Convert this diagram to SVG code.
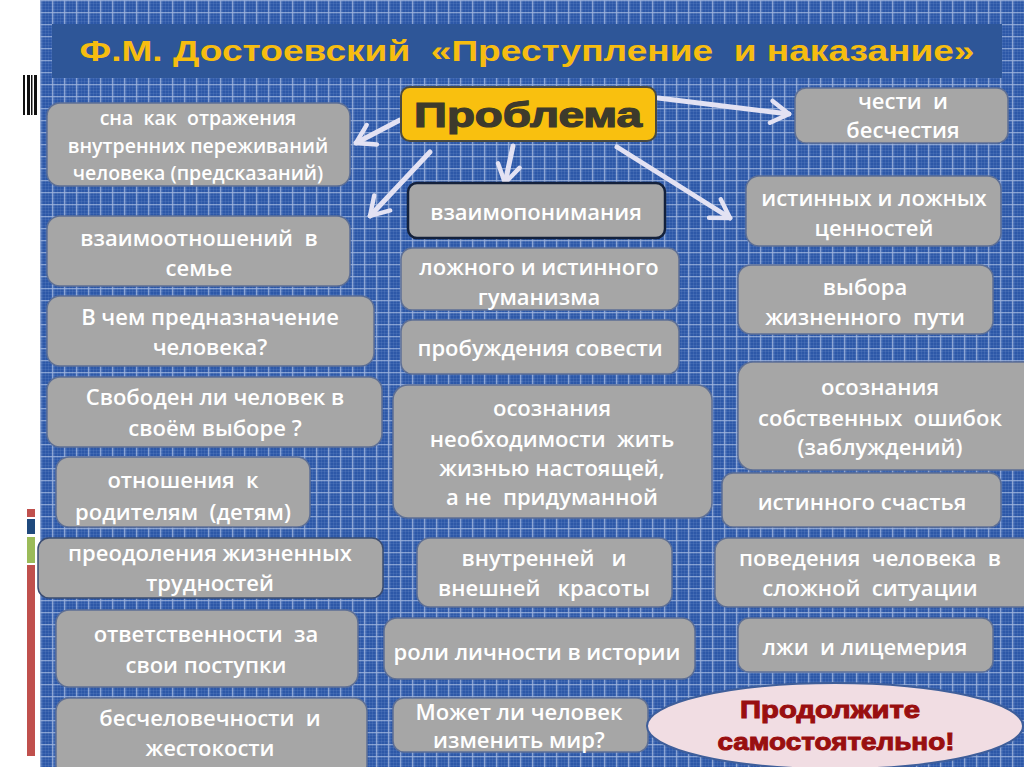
<svg xmlns="http://www.w3.org/2000/svg" width="1024" height="767" viewBox="0 0 1024 767">
<defs>
<pattern id="fine" width="3" height="3" patternUnits="userSpaceOnUse">
<path d="M0 0.5H3M0.5 0V3" stroke="#9fb7e6" stroke-width="0.6" stroke-opacity="0.2" fill="none"/>
</pattern>
<pattern id="grid" width="12" height="12" patternUnits="userSpaceOnUse" x="40" y="0">
<path d="M0 0.75H12M0.75 0V12" stroke="#dfe8fa" stroke-width="1.2" stroke-opacity="0.6" fill="none"/>
</pattern>
<marker id="arr" viewBox="0 0 20 20" refX="16" refY="10" markerWidth="5.5" markerHeight="5.5" markerUnits="strokeWidth" orient="auto">
<path d="M3 2 L16 10 L3 18" fill="none" stroke="#e3e2f3" stroke-width="3.2" stroke-linecap="round" stroke-linejoin="round"/>
</marker>
</defs>
<style>
.box{fill:#a6a6a6;stroke:#5d6f95;stroke-width:1.5}
.dark{stroke:#14213b;stroke-width:2.5}
.t{font-family:"Open Sans","DejaVu Sans",sans-serif;font-weight:600;fill:#ffffff;text-anchor:middle;font-size:22px;white-space:pre}
.c{stroke:#e3e2f3;stroke-width:5;fill:none;stroke-linecap:round;marker-end:url(#arr)}
</style>
<rect x="0" y="0" width="1024" height="767" fill="#ffffff"/>
<rect x="40" y="0" width="984" height="767" fill="#2d58a8"/>
<rect x="40" y="0" width="984" height="767" fill="url(#fine)"/>
<rect x="40" y="0" width="984" height="767" fill="url(#grid)"/>
<rect x="52" y="24" width="950" height="54" fill="#2e5698"/>
<g id="barcode" fill="#111">
<rect x="23" y="75" width="2" height="40"/><rect x="27" y="75" width="3" height="40"/><rect x="31" y="75" width="1.5" height="40"/><rect x="34" y="75" width="3" height="40"/>
</g>
<g id="sidebars">
<rect x="27" y="509" width="8" height="8" fill="#c0504d"/>
<rect x="27" y="519" width="8" height="15" fill="#1f497d"/>
<rect x="27" y="537" width="8" height="26" fill="#9bbb59"/>
<rect x="27" y="565" width="8" height="191" fill="#c0504d"/>
</g>
<text x="527" y="61" font-family="Liberation Sans,Arial,sans-serif" font-weight="bold" font-size="30" fill="#f6bd10" text-anchor="middle" textLength="895" lengthAdjust="spacingAndGlyphs" style="white-space:pre">Ф.М. Достоевский  «Преступление  и наказание»</text>

<g id="connectors">
<path class="c" d="M400 120 L356 143"/>
<path class="c" d="M430 152 L370 216"/>
<path class="c" d="M513 146 L505 183"/>
<path class="c" d="M617 147 L730 218"/>
<path class="c" d="M658 98 L789 114"/>
</g>

<g id="problem">
<rect x="401" y="87" width="255" height="54" rx="9" fill="#f9c00f" stroke="#4a4a40" stroke-width="2"/>
<text x="528" y="127" font-family="Liberation Sans,Arial,sans-serif" font-weight="900" font-size="35" fill="#3d3a2c" text-anchor="middle" stroke="#3d3a2c" stroke-width="1.2" textLength="228" lengthAdjust="spacingAndGlyphs">Проблема</text>
</g>

<g id="n-sna"><rect class="box" x="47" y="103" width="303" height="83" rx="13"/>
<text class="t" style="font-size:19.5px"><tspan x="198" y="125">сна  как  отражения</tspan><tspan x="198" y="153">внутренних переживаний</tspan><tspan x="198" y="180">человека (предсказаний)</tspan></text></g>

<g id="n-semya"><rect class="box" x="47" y="216" width="303" height="70" rx="13"/>
<text class="t"><tspan x="199" y="246">взаимоотношений  в</tspan><tspan x="199" y="276">семье</tspan></text></g>

<g id="n-prednaz"><rect class="box" x="47" y="296" width="327" height="70" rx="13"/>
<text class="t"><tspan x="210" y="325">В чем предназначение</tspan><tspan x="210" y="355">человека?</tspan></text></g>

<g id="n-svoboden"><rect class="box" x="47" y="377" width="335" height="70" rx="13"/>
<text class="t"><tspan x="215" y="405">Свободен ли человек в</tspan><tspan x="215" y="436">своём выборе ?</tspan></text></g>

<g id="n-roditeli"><rect class="box" x="56" y="457" width="254" height="70" rx="13"/>
<text class="t"><tspan x="183" y="488">отношения  к</tspan><tspan x="183" y="520">родителям  (детям)</tspan></text></g>

<g id="n-preodol"><rect class="box" x="38" y="538" width="345" height="60" rx="11" style="stroke:#3b4d72"/>
<text class="t"><tspan x="210" y="561">преодоления жизненных</tspan><tspan x="210" y="591">трудностей</tspan></text></g>

<g id="n-otvet"><rect class="box" x="56" y="610" width="302" height="77" rx="13"/>
<text class="t"><tspan x="206" y="642">ответственности  за</tspan><tspan x="206" y="673">свои поступки</tspan></text></g>

<g id="n-beschel"><rect class="box" x="56" y="698" width="311" height="80" rx="13"/>
<text class="t"><tspan x="210" y="726">бесчеловечности  и</tspan><tspan x="210" y="756">жестокости</tspan></text></g>

<g id="n-vzaimopon"><rect class="box dark" x="408" y="183" width="257" height="55" rx="9"/>
<text class="t" x="536" y="220">взаимопонимания</text></g>

<g id="n-gumanizm"><rect class="box" x="401" y="248" width="278" height="62" rx="11"/>
<text class="t"><tspan x="539" y="275">ложного и истинного</tspan><tspan x="539" y="305">гуманизма</tspan></text></g>

<g id="n-sovest"><rect class="box" x="401" y="320" width="278" height="54" rx="11"/>
<text class="t" x="540" y="356">пробуждения совести</text></g>

<g id="n-osozn1"><rect class="box" x="393" y="385" width="319" height="133" rx="15"/>
<text class="t"><tspan x="552" y="416">осознания</tspan><tspan x="552" y="447">необходимости  жить</tspan><tspan x="552" y="476">жизнью настоящей,</tspan><tspan x="552" y="505">а не  придуманной</tspan></text></g>

<g id="n-krasota"><rect class="box" x="417" y="538" width="255" height="69" rx="13"/>
<text class="t"><tspan x="544" y="566">внутренней   и</tspan><tspan x="544" y="596">внешней   красоты</tspan></text></g>

<g id="n-rol"><rect class="box" x="384" y="618" width="311" height="61" rx="13"/>
<text class="t" x="537" y="660">роли личности в истории</text></g>

<g id="n-mir"><rect class="box" x="393" y="698" width="255" height="54" rx="11"/>
<text class="t"><tspan x="519" y="720">Может ли человек</tspan><tspan x="519" y="748">изменить мир?</tspan></text></g>

<g id="n-chest"><rect class="box" x="795" y="88" width="213" height="55" rx="11"/>
<text class="t"><tspan x="903" y="109">чести  и</tspan><tspan x="903" y="138">бесчестия</tspan></text></g>

<g id="n-cennost"><rect class="box" x="746" y="176" width="255" height="70" rx="13"/>
<text class="t"><tspan x="874" y="206">истинных и ложных</tspan><tspan x="874" y="236">ценностей</tspan></text></g>

<g id="n-vybor"><rect class="box" x="738" y="265" width="255" height="69" rx="13"/>
<text class="t"><tspan x="865" y="295">выбора</tspan><tspan x="865" y="325">жизненного  пути</tspan></text></g>

<g id="n-osozn2"><rect class="box" x="738" y="362" width="300" height="108" rx="15"/>
<text class="t"><tspan x="880" y="395">осознания</tspan><tspan x="880" y="426">собственных  ошибок</tspan><tspan x="880" y="455">(заблуждений)</tspan></text></g>

<g id="n-schast"><rect class="box" x="722" y="473" width="279" height="54" rx="11"/>
<text class="t" x="862" y="510">истинного счастья</text></g>

<g id="n-povedenie"><rect class="box" x="715" y="538" width="320" height="69" rx="13"/>
<text class="t"><tspan x="870" y="566">поведения  человека  в</tspan><tspan x="870" y="596">сложной  ситуации</tspan></text></g>

<g id="n-lzhi"><rect class="box" x="738" y="618" width="255" height="54" rx="11"/>
<text class="t" x="865" y="655">лжи  и лицемерия</text></g>

<g id="n-continue">
<ellipse cx="835" cy="726" rx="188" ry="43" fill="#f1dde3" stroke="#3e5e9a" stroke-width="2"/>
<text font-family="Liberation Sans,Arial,sans-serif" font-weight="900" font-size="24" fill="#990f10" stroke="#990f10" stroke-width="1" text-anchor="middle"><tspan x="830" y="718" textLength="180" lengthAdjust="spacingAndGlyphs">Продолжите</tspan><tspan x="836" y="750" textLength="237" lengthAdjust="spacingAndGlyphs">самостоятельно!</tspan></text>
</g>
</svg>
